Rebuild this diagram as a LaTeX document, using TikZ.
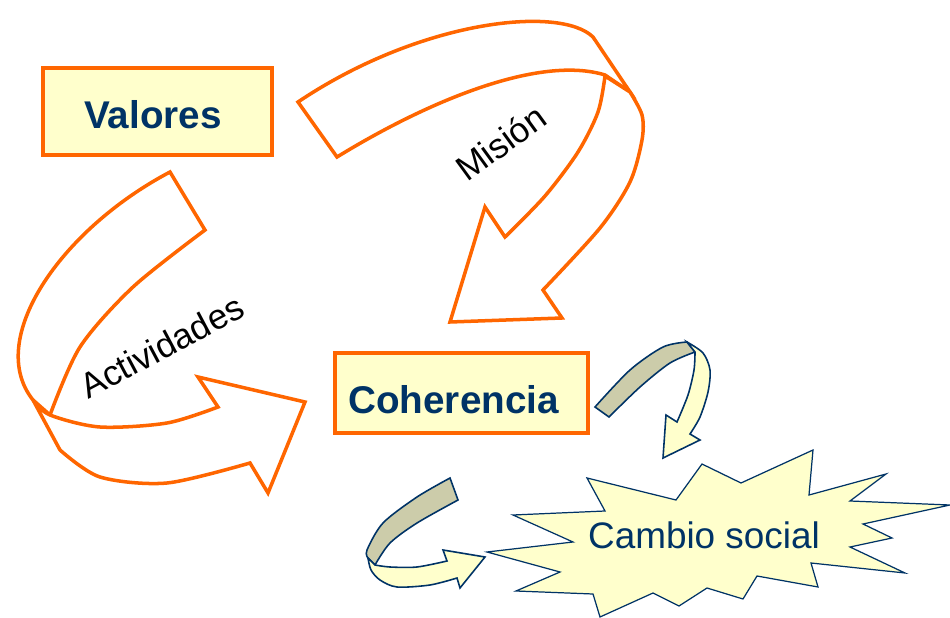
\documentclass[tikz,border=0pt]{standalone}
\usepackage{fontspec}
\setmainfont{Liberation Sans}
\usepackage{tikz}
\definecolor{orangeline}{HTML}{FF6600}
\definecolor{paleyellow}{HTML}{FFFFCC}
\definecolor{navytext}{HTML}{003366}
\definecolor{khakiband}{HTML}{CCCCAA}

\begin{document}
\begin{tikzpicture}[x=0.02cm,y=-0.02cm,
    keybox/.style={draw=orangeline,line width=2.2pt,fill=paleyellow,text=navytext,font=\fontsize{22}{26}\selectfont\bfseries,inner sep=0pt,text depth=0pt},
    bigband/.style={draw=orangeline,line width=2pt,fill=white},
    smallback/.style={draw=navytext,line width=0.9pt,fill=khakiband},
    smallfront/.style={draw=navytext,line width=0.9pt,fill=paleyellow},
    bandlabel/.style={font=\fontsize{20}{24}\selectfont,anchor=base west,inner sep=0pt}]
        \useasboundingbox (0,0) rectangle (950,618);

        % Mision arrow
        \filldraw[bigband] (298,102) -- (337,157) .. controls (430,100) and (540,55) .. (605,75) -- (630,92) -- (593,37) .. controls (560,5) and (420,20) .. (298,102) -- cycle;
        \filldraw[bigband] (605,76) -- (630,92) -- plot[smooth] coordinates {(630,92) (642,115) (642,140) (630,182) (600,228) (543,290)} -- (562,318) -- (450,322) -- (485,207) -- (505,237) -- plot[smooth] coordinates {(505,237) (545,196) (578,152) (598,112) (605,76)} -- cycle;

        % Actividades arrow
        \filldraw[bigband] (170,172) -- (205,230) -- plot[smooth] coordinates {(205,230) (133,287) (80,347) (50,415)} -- (33,400) .. controls (-15,340) and (60,230) .. (170,172) -- cycle;
        \filldraw[bigband] (33,400) -- (60,450) -- plot[smooth] coordinates {(60,450) (100,477) (167,483) (250,463)} -- (268,493) -- (305,402) -- (198,377) -- (218,407) -- plot[smooth] coordinates {(218,407) (167,423) (100,427) (50,415) (33,400)} -- cycle;

        % boxes
        \node[keybox,minimum width=4.58cm,minimum height=1.74cm,text height=19.7pt] (valores) at (157.5,111.5) {Valores\hspace*{5pt}};
        \node[keybox,minimum width=5.06cm,minimum height=1.6cm,text height=23.7pt] (coherencia) at (461.5,393) {Coherencia\hspace*{9pt}};

        % small arrow right of Coherencia
        \filldraw[smallback] (595,407) -- plot[smooth] coordinates {(595,407) (630,370) (663,347) (687,342)} -- (695,352) -- plot[smooth] coordinates {(695,352) (670,363) (640,387) (609,417)} -- cycle;
        \filldraw[smallfront] (687,342) -- plot[smooth] coordinates {(687,342) (703,353) (710,370) (708,392) (700,417) (690,434)} -- (700,440) -- (663,458) -- (666,415) -- (677,422) -- plot[smooth] coordinates {(677,422) (688,395) (694,370) (695,352)} -- cycle;

        % small arrow bottom left
        \filldraw[smallback] (450,478) -- (458,500) -- plot[smooth] coordinates {(458,500) (417,523) (390,543) (375,565)} -- (368,558) -- plot[smooth] coordinates {(368,558) (367,550) (383,523) (417,497) (450,478)} -- cycle;
        \filldraw[smallfront] (368,558) -- plot[smooth] coordinates {(368,558) (371,570) (380,580) (397,587) (430,585) (457,578)} -- (460,588) -- (485,557) -- (443,550) -- (447,561) -- plot[smooth] coordinates {(447,561) (417,567) (390,567) (375,565)} -- cycle;

        % burst
        \filldraw[draw=navytext,line width=0.7pt,fill=paleyellow] (487,552) -- (573,542) -- (513,515) -- (605,511) -- (587,478) -- (676,500) -- (702,464) -- (741,483) -- (813,450) -- (809,495) -- (886,474) -- (850,501) -- (950,505) -- (863,524) -- (892,538) -- (850,547) -- (905,573) -- (811,563) -- (818,587) -- (757,576) -- (743,599) -- (707,588) -- (679,606) -- (653,593) -- (600,617) -- (593,594) -- (516,591) -- (560,572) -- cycle;

        % text
        \node[text=navytext,font=\fontsize{21}{25}\selectfont] (cambio) at (704,535) {Cambio social};
        \node[bandlabel,rotate=36] (mision) at (467,183) {Misión};
        \node[bandlabel,rotate=28] (actividades) at (88,400) {Actividades};
    \end{tikzpicture}
\end{document}
